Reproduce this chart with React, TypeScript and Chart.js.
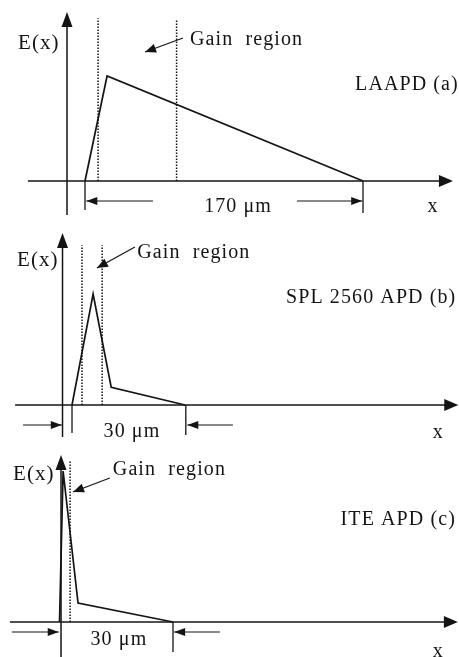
import React, { useEffect, useRef } from "react";
import { Chart, registerables } from "chart.js";

Chart.register(...registerables);

// ---------- data (x in µm, E(x) normalised to each panel's peak) ----------
const laapdX = [0, 13.5, 170];
const laapdE = [0, 1, 0];
const laapdGainEdges = [8, 56];

const splX = [0, 5.6, 10.4, 30];
const splE = [0, 1, 0.16, 0];
const splGainEdges = [2.65, 8];

const iteX = [0, 0.95, 4.9, 30];
const iteE = [0, 1, 0.126, 0];
const iteGainEdges = [2.8];

const panelTitles = ["LAAPD (a)", "SPL 2560 APD (b)", "ITE APD (c)"];
const widthLabels = ["170 \u03bcm", "30 \u03bcm", "30 \u03bcm"];
const depletionWidths = [170, 30, 30];
const yAxisLabel = "E(x)";
const xAxisLabel = "x";
const gainLabel = "Gain  region";

// ---------- layout (in each panel's data units) ----------
type Panel = {
  xs: number[];
  es: number[];
  gain: number[];
  gainTop: number[];
  top: number;
  height: number;
  xMin: number;
  xMax: number;
  yMin: number;
  yMax: number;
  yAxisX: number;
  yAxisBottom: number;
  yAxisTop: number;
  xAxisLeft: number;
  xAxisRight: number;
  ticks: [number, number][];
  dimY: number;
  leftArrow: [number, number];
  rightArrow: [number, number];
  widthLabelPos: [number, number];
  xLabelPos: [number, number];
  eLabelPos: [number, number];
  gainLabelPos: [number, number];
  gainArrow: [number, number, number, number];
  titlePos: [number, number];
};

const panels: Panel[] = [
  {
    xs: laapdX, es: laapdE, gain: laapdGainEdges, gainTop: [1.55, 1.53],
    top: 0, height: 222,
    xMin: -51.98, xMax: 228.7, yMin: -0.3905, yMax: 1.7238,
    yAxisX: -11, yAxisBottom: -0.324, yAxisTop: 1.61,
    xAxisLeft: -34.9, xAxisRight: 225,
    ticks: [[0, -0.276], [170, -0.305]],
    dimY: -0.19, leftArrow: [41.6, 0.8], rightArrow: [129.6, 169.5],
    widthLabelPos: [93.6, -0.248],
    xLabelPos: [212.8, -0.248],
    eLabelPos: [-41, 1.305],
    gainLabelPos: [64.2, 1.343],
    gainArrow: [59.9, 1.362, 36.7, 1.229],
    titlePos: [228.6, 0.914],
  },
  {
    xs: splX, es: splE, gain: splGainEdges, gainTop: [1.44, 1.44],
    top: 222, height: 223,
    xMin: -19.11, xMax: 102.7, yMin: -0.3604, yMax: 1.6486,
    yAxisX: -2.52, yAxisBottom: -0.288, yAxisTop: 1.55,
    xAxisLeft: -15.1, xAxisRight: 102.5,
    ticks: [[0, -0.252], [30.2, -0.27]],
    dimY: -0.18, leftArrow: [-13, -2.7], rightArrow: [42.7, 30.6],
    widthLabelPos: [15.9, -0.243],
    xLabelPos: [97.2, -0.252],
    eLabelPos: [-14.6, 1.306],
    gainLabelPos: [17.3, 1.369],
    gainArrow: [16.7, 1.423, 6.6, 1.234],
    titlePos: [102, 0.964],
  },
  {
    xs: iteX, es: iteE, gain: iteGainEdges, gainTop: [1.073],
    top: 445, height: 212,
    xMin: -15.73, xMax: 105.6, yMin: -0.2318, yMax: 1.1722,
    yAxisX: 0.4, yAxisBottom: -0.2318, yAxisTop: 1.106,
    xAxisLeft: -13.1, xAxisRight: 105.3,
    ticks: [[30, -0.199]],
    dimY: -0.066, leftArrow: [-12.6, -0.2], rightArrow: [42.4, 30.3],
    widthLabelPos: [15.7, -0.119],
    xLabelPos: [100.1, -0.199],
    eLabelPos: [-12.3, 0.974],
    gainLabelPos: [14.1, 1.007],
    gainArrow: [13.3, 0.954, 3.57, 0.861],
    titlePos: [104.8, 0.675],
  },
];

const INK = "#141414";
const FAMILY = '"Liberation Serif", "Times New Roman", serif';
const FONT = "20px " + FAMILY;
const FONT_E = "21px " + FAMILY;
const SPACING = "1.1px";

function arrowHead(
  ctx: CanvasRenderingContext2D,
  fx: number, fy: number, tx: number, ty: number,
  len: number, half: number
) {
  const a = Math.atan2(ty - fy, tx - fx);
  const bx = tx - Math.cos(a) * len;
  const by = ty - Math.sin(a) * len;
  ctx.beginPath();
  ctx.moveTo(tx, ty);
  ctx.lineTo(bx + Math.sin(a) * half, by - Math.cos(a) * half);
  ctx.lineTo(bx - Math.sin(a) * half, by + Math.cos(a) * half);
  ctx.closePath();
  ctx.fill();
}

function makeDecor(p: Panel, idx: number) {
  return {
    id: "decor" + idx,
    afterDatasetsDraw(chart: any) {
      const ctx: CanvasRenderingContext2D = chart.ctx;
      const X = (u: number) => chart.scales.x.getPixelForValue(u);
      const Y = (e: number) => chart.scales.y.getPixelForValue(e);
      ctx.save();
      ctx.strokeStyle = INK;
      ctx.fillStyle = INK;
      arrowHead(ctx, X(p.yAxisX), Y(p.yAxisBottom), X(p.yAxisX), Y(p.yAxisTop), 15, 5.5);
      arrowHead(ctx, X(p.xAxisLeft), Y(0), X(p.xAxisRight), Y(0), 14, 6);
      ctx.lineWidth = 1.3;
      for (const [u, b] of p.ticks) {
        ctx.beginPath();
        ctx.moveTo(X(u), Y(0));
        ctx.lineTo(X(u), Y(b));
        ctx.stroke();
      }
      ctx.lineWidth = 1.1;
      for (const [t, h] of [p.leftArrow, p.rightArrow]) {
        ctx.beginPath();
        ctx.moveTo(X(t), Y(p.dimY));
        ctx.lineTo(X(h), Y(p.dimY));
        ctx.stroke();
        arrowHead(ctx, X(t), Y(p.dimY), X(h), Y(p.dimY), 11, 4);
      }
      const [gtu, gte, ghu, ghe] = p.gainArrow;
      ctx.lineWidth = 1.2;
      ctx.beginPath();
      ctx.moveTo(X(gtu), Y(gte));
      ctx.lineTo(X(ghu), Y(ghe));
      ctx.stroke();
      arrowHead(ctx, X(gtu), Y(gte), X(ghu), Y(ghe), 11, 4.5);

      (ctx as any).letterSpacing = SPACING;
      ctx.textBaseline = "middle";
      ctx.textAlign = "left";
      ctx.font = FONT_E;
      ctx.fillText(yAxisLabel, X(p.eLabelPos[0]), Y(p.eLabelPos[1]));
      ctx.font = FONT;
      ctx.fillText(gainLabel, X(p.gainLabelPos[0]), Y(p.gainLabelPos[1]));
      ctx.textAlign = "right";
      ctx.fillText(panelTitles[idx], X(p.titlePos[0]), Y(p.titlePos[1]));
      ctx.textAlign = "center";
      ctx.fillText(widthLabels[idx], X(p.widthLabelPos[0]), Y(p.widthLabelPos[1]));
      ctx.fillText(xAxisLabel, X(p.xLabelPos[0]), Y(p.xLabelPos[1]));
      ctx.restore();
    },
  };
}

function buildChart(canvas: HTMLCanvasElement, p: Panel, idx: number) {
  const line = (pts: { x: number; y: number }[], width: number, dash: number[] = []) => ({
    data: pts,
    showLine: true,
    borderColor: INK,
    borderWidth: width,
    borderDash: dash,
    pointRadius: 0,
    tension: 0,
    fill: false,
  });
  const datasets: any[] = [
    line([{ x: p.xAxisLeft, y: 0 }, { x: p.xAxisRight - 2, y: 0 }], 1.5),
    line([{ x: p.yAxisX, y: p.yAxisBottom }, { x: p.yAxisX, y: p.yAxisTop - 0.05 }], 1.5),
    ...p.gain.map((g, i) =>
      line([{ x: g, y: 0 }, { x: g, y: p.gainTop[i] }], 1.5, [1.5, 1.5])
    ),
    line(p.xs.map((x, i) => ({ x, y: p.es[i] })), 1.7),
    line([{ x: 0, y: 0 }, { x: depletionWidths[idx], y: 0 }], 0.01),
  ];
  return new Chart(canvas, {
    type: "scatter",
    data: { datasets },
    options: {
      animation: false,
      responsive: false,
      events: [],
      layout: { padding: 0 },
      plugins: { legend: { display: false }, tooltip: { enabled: false } },
      scales: {
        x: { type: "linear", min: p.xMin, max: p.xMax, display: false },
        y: { type: "linear", min: p.yMin, max: p.yMax, display: false },
      },
    },
    plugins: [makeDecor(p, idx)],
  } as any);
}

export default function App() {
  const r0 = useRef<HTMLCanvasElement>(null);
  const r1 = useRef<HTMLCanvasElement>(null);
  const r2 = useRef<HTMLCanvasElement>(null);
  useEffect(() => {
    const refs = [r0, r1, r2];
    let charts: Chart[] = [];
    let alive = true;
    const make = () => {
      if (!alive) return;
      charts = panels.map((p, i) => buildChart(refs[i].current!, p, i));
    };
    const fonts = (document as any).fonts;
    if (fonts && fonts.load) {
      Promise.all([fonts.load(FONT, "Gain region"), fonts.load(FONT_E, "E(x)")]).then(make, make);
    } else {
      make();
    }
    return () => {
      alive = false;
      charts.forEach((c) => c.destroy());
    };
  }, []);
  const refs = [r0, r1, r2];
  return (
    <div style={{ position: "absolute", left: 0, top: 0, width: 459, height: 657, background: "#fff" }}>
      {panels.map((p, i) => (
        <canvas
          key={i}
          ref={refs[i]}
          width={459}
          height={p.height}
          style={{ position: "absolute", left: 0, top: p.top, width: 459, height: p.height }}
        />
      ))}
    </div>
  );
}
